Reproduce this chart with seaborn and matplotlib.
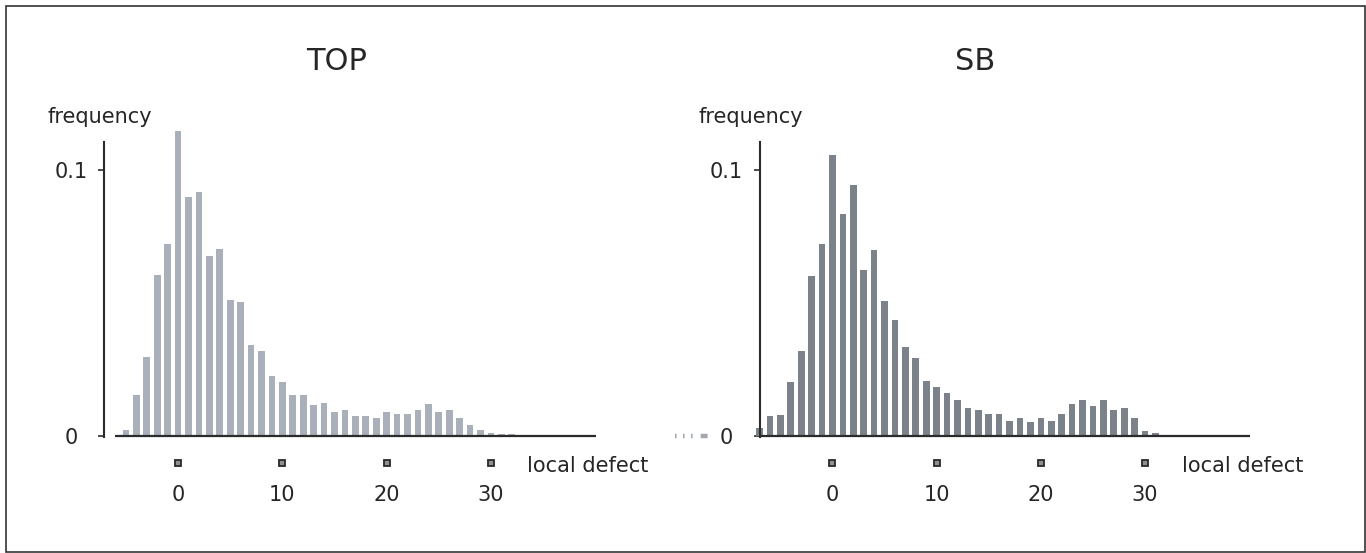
import matplotlib
matplotlib.use("Agg")
import matplotlib.pyplot as plt
import seaborn as sns
from matplotlib.transforms import offset_copy
from matplotlib.patches import Rectangle

# ---- data -------------------------------------------------------------
top_defect = list(range(-5, 33))
top_freq = [0.0021, 0.0154, 0.0294, 0.0603, 0.0720,
            0.1146, 0.0898, 0.0914, 0.0674, 0.0703,
            0.0510, 0.0503, 0.0339, 0.0317, 0.0223,
            0.0200, 0.0154, 0.0154, 0.0115, 0.0123,
            0.0087, 0.0094, 0.0073, 0.0073, 0.0064,
            0.0088, 0.0080, 0.0080, 0.0095, 0.0119,
            0.0088, 0.0095, 0.0064, 0.0041, 0.0019,
            0.0010, 0.0004, 0.0004]

sb_defect = list(range(-7, 35))
sb_freq = [0.0027, 0.0072, 0.0078, 0.0201, 0.0317,
           0.0598, 0.0721, 0.1056, 0.0831, 0.0941,
           0.0621, 0.0699, 0.0505, 0.0433, 0.0334,
           0.0290, 0.0204, 0.0182, 0.0158, 0.0135,
           0.0104, 0.0095, 0.0082, 0.0082, 0.0056,
           0.0064, 0.0049, 0.0064, 0.0056, 0.0082,
           0.0119, 0.0134, 0.0112, 0.0134, 0.0095,
           0.0104, 0.0065, 0.0018, 0.0010, 0.0003,
           0.0003, 0.0003]

xticks = [0, 10, 20, 30]
yticks = [0, 0.1]
ytick_labels = ["0", "0.1"]
titles = ["TOP", "SB"]
x_label = "local defect"
y_label = "frequency"

# ---- style ------------------------------------------------------------
sns.set_theme(style="white")
plt.rcParams["font.family"] = ["DejaVu Sans"]
plt.rcParams["lines.scale_dashes"] = False
TEXT = "#262626"
AXIS = "#2b2b2b"

W, H = 1366, 553
fig = plt.figure(figsize=(W / 100, H / 100), dpi=100)
fig.patch.set_facecolor("white")

ZERO_PX = 435.5          # pixel row of frequency 0
PX_PER_UNIT_Y = 2660.0   # pixels per 1.0 of frequency
AX_TOP_PX = 100.0
ymax = (ZERO_PX - AX_TOP_PX) / PX_PER_UNIT_Y
spine_top = (ZERO_PX - 142) / PX_PER_UNIT_Y

panels = [
    dict(title=titles[0], x=top_defect, y=top_freq, color="#a9b0ba",
         left=104.0, xlim=(-7.1, 40.1), px_per_x=10.43, base_start=-6.05,
         title_x=337, ylab_x=48, artifact=False),
    dict(title=titles[1], x=sb_defect, y=sb_freq, color="#7b8289",
         left=759.5, xlim=(-7.0, 40.1), px_per_x=10.42, base_start=-7.0,
         title_x=975, ylab_x=698, artifact=True),
]

for p in panels:
    width_px = (p["xlim"][1] - p["xlim"][0]) * p["px_per_x"]
    ax = fig.add_axes([p["left"] / W, (H - ZERO_PX) / H,
                       width_px / W, (ZERO_PX - AX_TOP_PX) / H])
    ax.set_facecolor("none")

    sns.histplot(x=p["x"], weights=p["y"], discrete=True, shrink=0.64,
                 color=p["color"], alpha=1, linewidth=0, ax=ax)
    for patch in ax.patches:
        patch.set_clip_on(False)

    ax.set_xlim(*p["xlim"])
    ax.set_ylim(0, ymax)
    ax.set_xlabel("")
    ax.set_ylabel("")
    ax.grid(False)

    for side in ("top", "right", "bottom"):
        ax.spines[side].set_visible(False)
    ax.spines["left"].set_bounds(-0.0004, spine_top)
    ax.spines["left"].set_color(AXIS)
    ax.spines["left"].set_linewidth(1.5)

    # baseline of the histogram
    ax.hlines(0, p["base_start"], p["xlim"][1], color=AXIS, lw=1.6,
              zorder=4, clip_on=False)

    # y ticks
    ax.set_yticks(yticks, ytick_labels)
    ax.tick_params(axis="y", direction="out", length=4.5, width=1.2,
                   color=AXIS, labelsize=15, labelcolor=TEXT, pad=19.3,
                   left=True)
    for lbl in ax.get_yticklabels():
        lbl.set_horizontalalignment("center")

    # x ticks: labels only, square markers drawn below the baseline
    ax.set_xticks(xticks, [str(t) for t in xticks])
    ax.tick_params(axis="x", length=0, pad=35.6, labelsize=15,
                   labelcolor=TEXT)
    sq = offset_copy(ax.get_xaxis_transform(), fig=fig, y=-27.5, units="dots")
    ax.plot(xticks, [0] * len(xticks), transform=sq, ls="none", marker="s",
            ms=4.3, mfc="#909090", mec="#2a2a2a", mew=1.3, clip_on=False)

    lab = offset_copy(ax.get_xaxis_transform(), fig=fig, y=-36.5, units="dots")
    ax.text(33.5, 0, x_label, transform=lab, ha="left", va="baseline",
            fontsize=15, color=TEXT)

    if p["artifact"]:
        ax.plot([-0.172, -0.101], [0, 0], transform=ax.get_yaxis_transform(),
                color="#a3a8ae", lw=3.2, clip_on=False, solid_capstyle="butt",
                dashes=(1.1, 4.7, 1.1, 4.7, 1.1, 5.8, 5.0, 30))

    fig.text(p["title_x"] / W, 1 - 70 / H, p["title"], ha="center",
             va="baseline", fontsize=22, color=TEXT)
    fig.text(p["ylab_x"] / W, 1 - 123 / H, y_label, ha="left",
             va="baseline", fontsize=15, color=TEXT)

# outer frame
fig.add_artist(Rectangle((5.5 / W, 1.0 / H), (1364.5 - 5.5) / W,
                         (552 - 5.5) / H, transform=fig.transFigure,
                         fill=False, ec="#333333", lw=1.2))

fig.savefig("out.png", dpi=100)
